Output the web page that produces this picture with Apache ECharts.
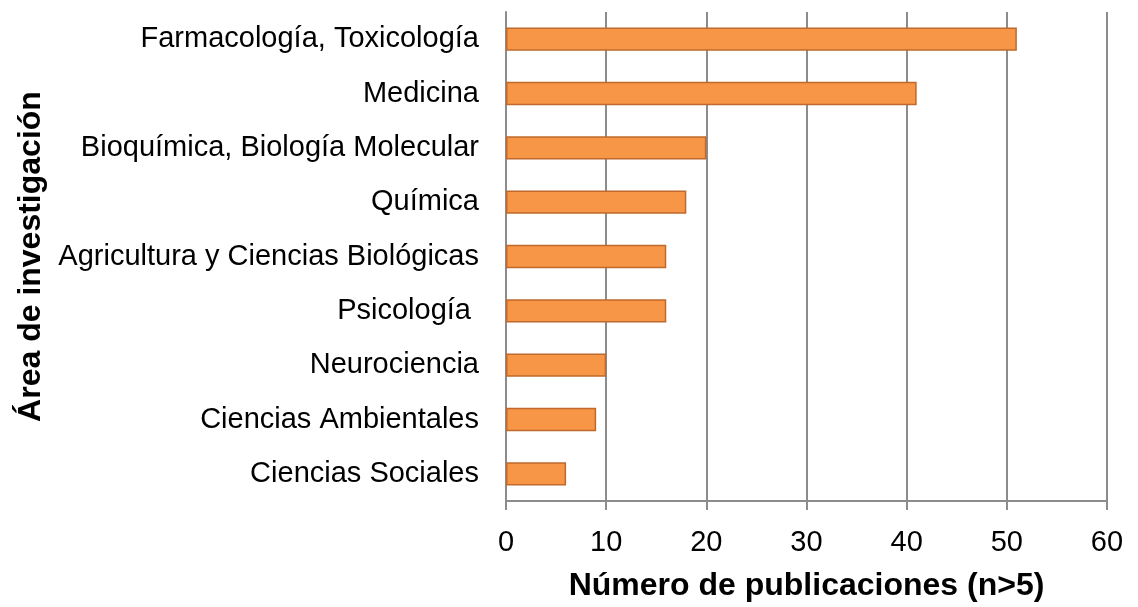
<!DOCTYPE html>
<html>
<head>
<meta charset="utf-8">
<script src="https://cdn.jsdelivr.net/npm/echarts@6/dist/echarts.min.js"></script>
<style>html,body{margin:0;padding:0;background:#fff}#c{width:1138px;height:607px}</style>
</head>
<body>
<div id="c"></div>
<script>
const categories = ["Farmacología, Toxicología","Medicina","Bioquímica, Biología Molecular","Química","Agricultura y Ciencias Biológicas","Psicología ","Neurociencia","Ciencias Ambientales","Ciencias Sociales"];
const values = [51,41,20,18,16,16,10,9,6];
const xTicks = [0,10,20,30,40,50,60];

const chart = echarts.init(document.getElementById('c'));
chart.setOption({
  animation:false,
  grid:{left:506,right:31,top:12,bottom:100,containLabel:false},
  xAxis:{
    type:'value',min:0,max:60,interval:10,
    name:'Número de publicaciones (n>5)',nameLocation:'middle',nameGap:69,
    nameTextStyle:{fontFamily:'Liberation Sans',fontSize:32,fontWeight:'bold',color:'#000'},
    axisLine:{show:true,lineStyle:{color:'#8c8c8c',width:2}},
    axisTick:{show:true,length:9,lineStyle:{color:'#8c8c8c',width:2}},
    axisLabel:{fontFamily:'Liberation Sans',fontSize:29,color:'#000',margin:27,
      formatter:v=>xTicks.includes(v)?String(v):''},
    splitLine:{show:true,lineStyle:{color:'#8c8c8c',width:2}}
  },
  yAxis:{
    type:'category',data:categories,inverse:true,
    name:'Área de investigación',nameLocation:'middle',nameGap:459,nameRotate:90,
    nameTextStyle:{fontFamily:'Liberation Sans',fontSize:32,fontWeight:'bold',color:'#000'},
    axisLine:{show:true,lineStyle:{color:'#8c8c8c',width:2}},
    axisTick:{show:false},
    axisLabel:{fontFamily:'Liberation Sans',fontSize:29,color:'#000',margin:27},
    splitLine:{show:false}
  },
  series:[{
    type:'bar',data:values,barWidth:'43%',
    itemStyle:{color:'#F79646',borderColor:'#C0692C',borderWidth:1.5}
  }]
});
</script>
</body>
</html>
